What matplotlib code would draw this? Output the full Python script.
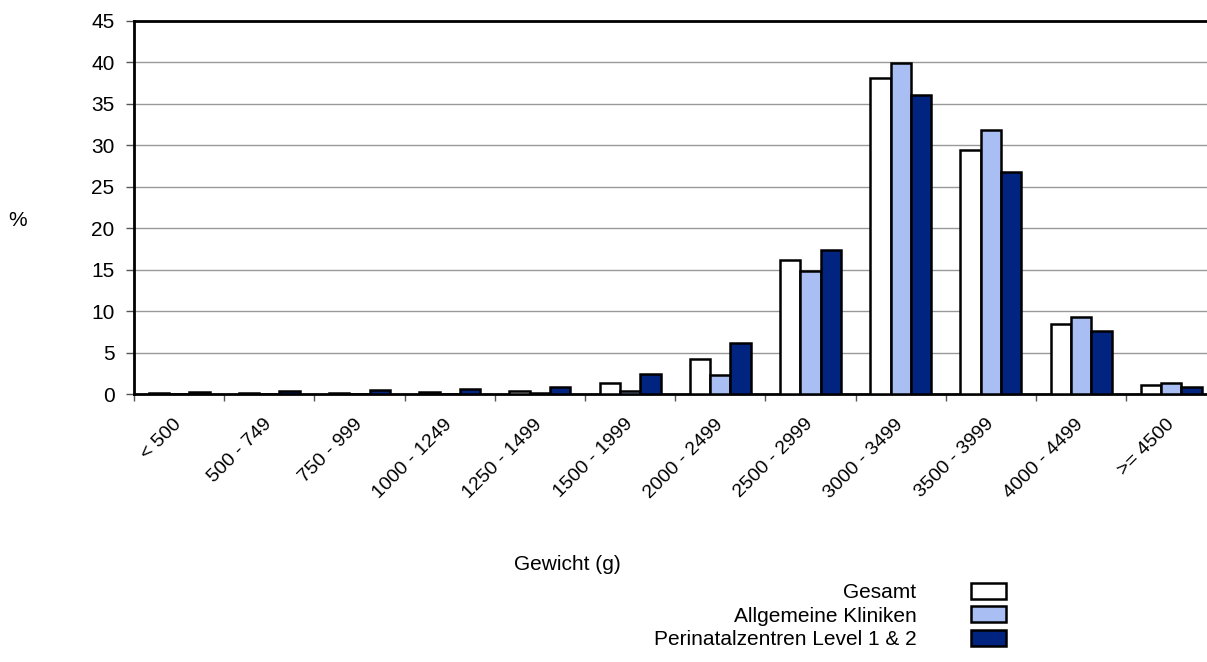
import matplotlib.pyplot as plt
import numpy as np

plt.rcParams['font.family'] = ['Liberation Sans', 'DejaVu Sans']

categories = ['< 500', '500 - 749', '750 - 999', '1000 - 1249', '1250 - 1499',
              '1500 - 1999', '2000 - 2499', '2500 - 2999', '3000 - 3499',
              '3500 - 3999', '4000 - 4499', '>= 4500']
gesamt = [0.1, 0.1, 0.15, 0.2, 0.4, 1.3, 4.2, 16.2, 38.1, 29.4, 8.4, 1.1]
allgemein = [0.05, 0.05, 0.05, 0.05, 0.1, 0.35, 2.3, 14.8, 39.9, 31.8, 9.3, 1.3]
perinatal = [0.25, 0.4, 0.45, 0.65, 0.9, 2.4, 6.2, 17.4, 36.1, 26.8, 7.6, 0.8]
series_names = ['Gesamt', 'Allgemeine Kliniken', 'Perinatalzentren Level 1 & 2']
colors = ['#FFFFFF', '#A9BFF4', '#00247F']

fs = 15

fig = plt.figure(figsize=(12.07, 6.62), dpi=100)
ax = fig.add_axes([0.111, 0.4048, 0.8968, 0.5635])

x = np.arange(len(categories))
w = 0.225
bars = []
for i, (vals, c) in enumerate(zip([gesamt, allgemein, perinatal], colors)):
    b = ax.bar(x + (i - 1) * w, vals, width=w, color=c, edgecolor='black',
               linewidth=1.8, zorder=3, label=series_names[i])
    bars.append(b)

ax.set_xlim(-0.5, len(categories) - 0.5)
ax.set_ylim(0, 45)
ax.set_yticks(np.arange(0, 46, 5))
ax.yaxis.grid(True, color='#999999', linewidth=1, zorder=0)

# ticks at category boundaries, labels at centres
ax.set_xticks(np.arange(-0.5, len(categories), 1))
ax.set_xticklabels([])
ax.set_xticks(x, minor=True)
ax.set_xticklabels(categories, minor=True, rotation=45, ha='right', va='center',
                   rotation_mode='anchor', fontsize=14)
ax.tick_params(axis='x', which='minor', length=0, pad=20)
ax.tick_params(axis='x', which='major', length=5, width=1, color='#555555')
ax.tick_params(axis='y', length=6, width=1, color='#555555', labelsize=fs, pad=8)

for s in ['left', 'bottom', 'top', 'right']:
    ax.spines[s].set_linewidth(2)

fig.text(18 / 1207, 1 - 220 / 662, '%', fontsize=fs, ha='center', va='center')
fig.text(567 / 1207, 1 - 565 / 662, 'Gewicht (g)', fontsize=fs, ha='center', va='center')

fig.legend(handles=bars, labels=series_names, loc='upper right',
           bbox_to_anchor=(1006 / 1207, 1 - 583 / 662), frameon=False,
           markerfirst=False, fontsize=fs, handlelength=1.7, handleheight=0.8,
           handletextpad=2.6, labelspacing=0.2, borderpad=0, borderaxespad=0)

plt.savefig('out.png', dpi=100)
